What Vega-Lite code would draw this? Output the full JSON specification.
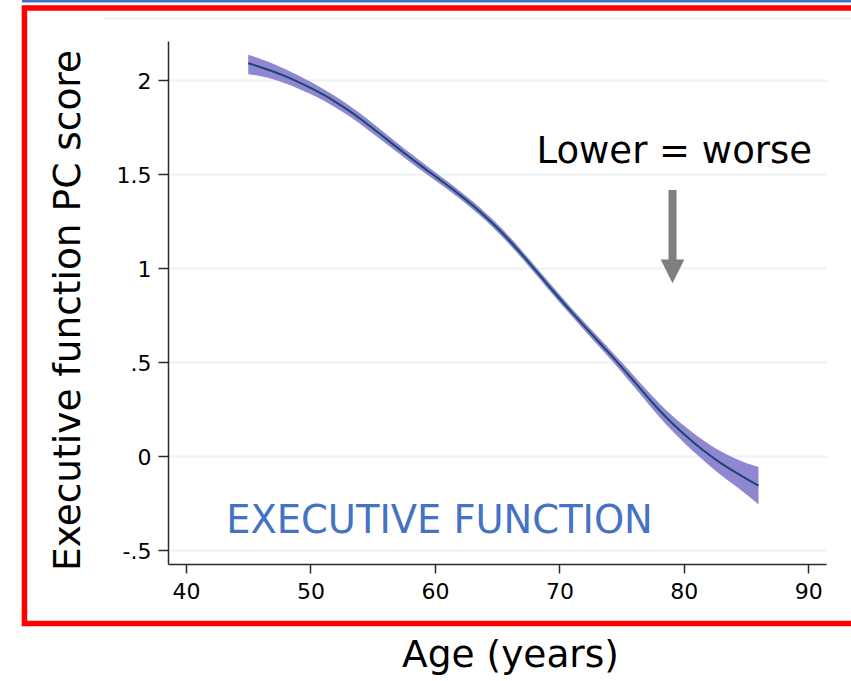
{
  "$schema": "https://vega.github.io/schema/vega-lite/v6.json",
  "width": 658,
  "height": 523,
  "autosize": {"type": "none"},
  "padding": {"left": 168, "top": 41, "right": 25, "bottom": 117},
  "background": "white",
  "config": {
    "view": {"stroke": null},
    "axis": {
      "domainColor": "#2a2a2a",
      "domainWidth": 1.5,
      "tickColor": "#2a2a2a",
      "tickWidth": 1.5,
      "labelFont": "DejaVu Sans",
      "labelFontSize": 22,
      "labelColor": "#000000",
      "titleFont": "DejaVu Sans",
      "titleFontWeight": "normal",
      "titleColor": "#000000",
      "gridColor": "#eaf2f3",
      "gridWidth": 2
    }
  },
  "datasets": {
    "curve": [
      {"age": 45, "fit": 2.089, "lo": 2.031, "hi": 2.134},
      {"age": 46, "fit": 2.068, "lo": 2.020, "hi": 2.112},
      {"age": 47, "fit": 2.045, "lo": 2.004, "hi": 2.086},
      {"age": 48, "fit": 2.019, "lo": 1.981, "hi": 2.057},
      {"age": 49, "fit": 1.990, "lo": 1.955, "hi": 2.025},
      {"age": 50, "fit": 1.958, "lo": 1.925, "hi": 1.991},
      {"age": 51, "fit": 1.923, "lo": 1.892, "hi": 1.954},
      {"age": 52, "fit": 1.884, "lo": 1.854, "hi": 1.914},
      {"age": 53, "fit": 1.841, "lo": 1.812, "hi": 1.870},
      {"age": 54, "fit": 1.794, "lo": 1.766, "hi": 1.822},
      {"age": 55, "fit": 1.743, "lo": 1.716, "hi": 1.770},
      {"age": 56, "fit": 1.691, "lo": 1.665, "hi": 1.717},
      {"age": 57, "fit": 1.639, "lo": 1.614, "hi": 1.664},
      {"age": 58, "fit": 1.588, "lo": 1.564, "hi": 1.612},
      {"age": 59, "fit": 1.538, "lo": 1.515, "hi": 1.561},
      {"age": 60, "fit": 1.489, "lo": 1.467, "hi": 1.511},
      {"age": 61, "fit": 1.440, "lo": 1.419, "hi": 1.461},
      {"age": 62, "fit": 1.389, "lo": 1.368, "hi": 1.410},
      {"age": 63, "fit": 1.335, "lo": 1.314, "hi": 1.356},
      {"age": 64, "fit": 1.277, "lo": 1.256, "hi": 1.298},
      {"age": 65, "fit": 1.214, "lo": 1.193, "hi": 1.235},
      {"age": 66, "fit": 1.145, "lo": 1.124, "hi": 1.166},
      {"age": 67, "fit": 1.071, "lo": 1.050, "hi": 1.092},
      {"age": 68, "fit": 0.994, "lo": 0.973, "hi": 1.015},
      {"age": 69, "fit": 0.916, "lo": 0.895, "hi": 0.937},
      {"age": 70, "fit": 0.839, "lo": 0.818, "hi": 0.860},
      {"age": 71, "fit": 0.764, "lo": 0.743, "hi": 0.785},
      {"age": 72, "fit": 0.691, "lo": 0.669, "hi": 0.713},
      {"age": 73, "fit": 0.619, "lo": 0.596, "hi": 0.642},
      {"age": 74, "fit": 0.547, "lo": 0.523, "hi": 0.571},
      {"age": 75, "fit": 0.473, "lo": 0.447, "hi": 0.499},
      {"age": 76, "fit": 0.397, "lo": 0.368, "hi": 0.426},
      {"age": 77, "fit": 0.320, "lo": 0.288, "hi": 0.352},
      {"age": 78, "fit": 0.246, "lo": 0.210, "hi": 0.282},
      {"age": 79, "fit": 0.178, "lo": 0.138, "hi": 0.218},
      {"age": 80, "fit": 0.117, "lo": 0.072, "hi": 0.162},
      {"age": 81, "fit": 0.060, "lo": 0.010, "hi": 0.110},
      {"age": 82, "fit": 0.008, "lo": -0.048, "hi": 0.064},
      {"age": 83, "fit": -0.039, "lo": -0.102, "hi": 0.024},
      {"age": 84, "fit": -0.081, "lo": -0.152, "hi": -0.010},
      {"age": 85, "fit": -0.120, "lo": -0.203, "hi": -0.037},
      {"age": 86, "fit": -0.158, "lo": -0.258, "hi": -0.058}
    ],
    "frame": [{"age": 27.02, "age2": 93.83, "score": -0.891, "score2": 2.383}],
    "blueline": [{"age": 26.82, "age2": 93.83, "score": 2.42}],
    "grayline": [{"age": 33.33, "age2": 93.83, "score": 2.327}],
    "arrow": [{"age": 79.09, "score": 1.415, "score2": 1.03}],
    "arrowhead": [{"age": 79.09, "score": 0.982}],
    "note": [{"age": 79.23, "score": 1.557, "label": "Lower = worse"}],
    "panel": [{"age": 60.37, "score": -0.411, "label": "EXECUTIVE FUNCTION"}]
  },
  "layer": [
    {
      "data": {"name": "curve"},
      "mark": {"type": "area", "color": "#8f87d2", "opacity": 1, "interpolate": "natural"},
      "encoding": {
        "x": {
          "field": "age", "type": "quantitative",
          "scale": {"domain": [38.554, 91.422], "nice": false, "zero": false},
          "axis": {
            "values": [40, 50, 60, 70, 80, 90],
            "grid": false,
            "tickSize": 9,
            "labelPadding": 8,
            "title": "Age (years)",
            "titleFontSize": 37.5,
            "titleX": 342,
            "titleY": 102.7,
            "titleAlign": "center",
            "titleBaseline": "alphabetic"
          }
        },
        "y": {
          "field": "lo", "type": "quantitative",
          "scale": {"domain": [-0.5745, 2.2074], "nice": false, "zero": false},
          "axis": {
            "values": [-0.5, 0, 0.5, 1, 1.5, 2],
            "grid": true,
            "tickSize": 10,
            "labelPadding": 7,
            "labelOffset": 1.5,
            "labelExpr": "replace(replace(format(datum.value, '.1~f'), '0.', '.'), '\u2212', '-')",
            "title": "Executive function PC score",
            "titleFontSize": 37.5,
            "titleAngle": -90,
            "titleX": -89,
            "titleY": 269,
            "titleAlign": "center",
            "titleBaseline": "alphabetic"
          }
        },
        "y2": {"field": "hi"}
      }
    },
    {
      "data": {"name": "curve"},
      "mark": {"type": "line", "color": "#1a476f", "strokeWidth": 2, "interpolate": "natural"},
      "encoding": {
        "x": {"field": "age", "type": "quantitative"},
        "y": {"field": "fit", "type": "quantitative"}
      }
    },
    {
      "data": {"name": "frame"},
      "mark": {"type": "rect", "fill": null, "fillOpacity": 0, "stroke": "#ff0000", "strokeWidth": 5.5, "clip": false},
      "encoding": {
        "x": {"field": "age", "type": "quantitative"},
        "x2": {"field": "age2"},
        "y": {"field": "score", "type": "quantitative"},
        "y2": {"field": "score2"}
      }
    },
    {
      "data": {"name": "blueline"},
      "mark": {"type": "rule", "color": "#4472c4", "strokeWidth": 3},
      "encoding": {
        "x": {"field": "age", "type": "quantitative"},
        "x2": {"field": "age2"},
        "y": {"field": "score", "type": "quantitative"}
      }
    },
    {
      "data": {"name": "grayline"},
      "mark": {"type": "rule", "color": "#eaf2f3", "strokeWidth": 2},
      "encoding": {
        "x": {"field": "age", "type": "quantitative"},
        "x2": {"field": "age2"},
        "y": {"field": "score", "type": "quantitative"}
      }
    },
    {
      "data": {"name": "arrow"},
      "mark": {"type": "rule", "color": "#7f7f7f", "strokeWidth": 8, "strokeCap": "butt"},
      "encoding": {
        "x": {"field": "age", "type": "quantitative"},
        "y": {"field": "score", "type": "quantitative"},
        "y2": {"field": "score2"}
      }
    },
    {
      "data": {"name": "arrowhead"},
      "mark": {"type": "point", "shape": "M-1,-1L1,-1L0,1Z", "size": 560, "filled": true, "color": "#7f7f7f", "opacity": 1, "strokeWidth": 0},
      "encoding": {
        "x": {"field": "age", "type": "quantitative"},
        "y": {"field": "score", "type": "quantitative"}
      }
    },
    {
      "data": {"name": "note"},
      "mark": {"type": "text", "font": "DejaVu Sans", "fontSize": 37, "color": "#000000", "align": "center", "baseline": "alphabetic"},
      "encoding": {
        "x": {"field": "age", "type": "quantitative"},
        "y": {"field": "score", "type": "quantitative"},
        "text": {"field": "label"}
      }
    },
    {
      "data": {"name": "panel"},
      "mark": {"type": "text", "font": "DejaVu Sans", "fontSize": 38.4, "color": "#4472c4", "align": "center", "baseline": "alphabetic"},
      "encoding": {
        "x": {"field": "age", "type": "quantitative"},
        "y": {"field": "score", "type": "quantitative"},
        "text": {"field": "label"}
      }
    }
  ]
}
